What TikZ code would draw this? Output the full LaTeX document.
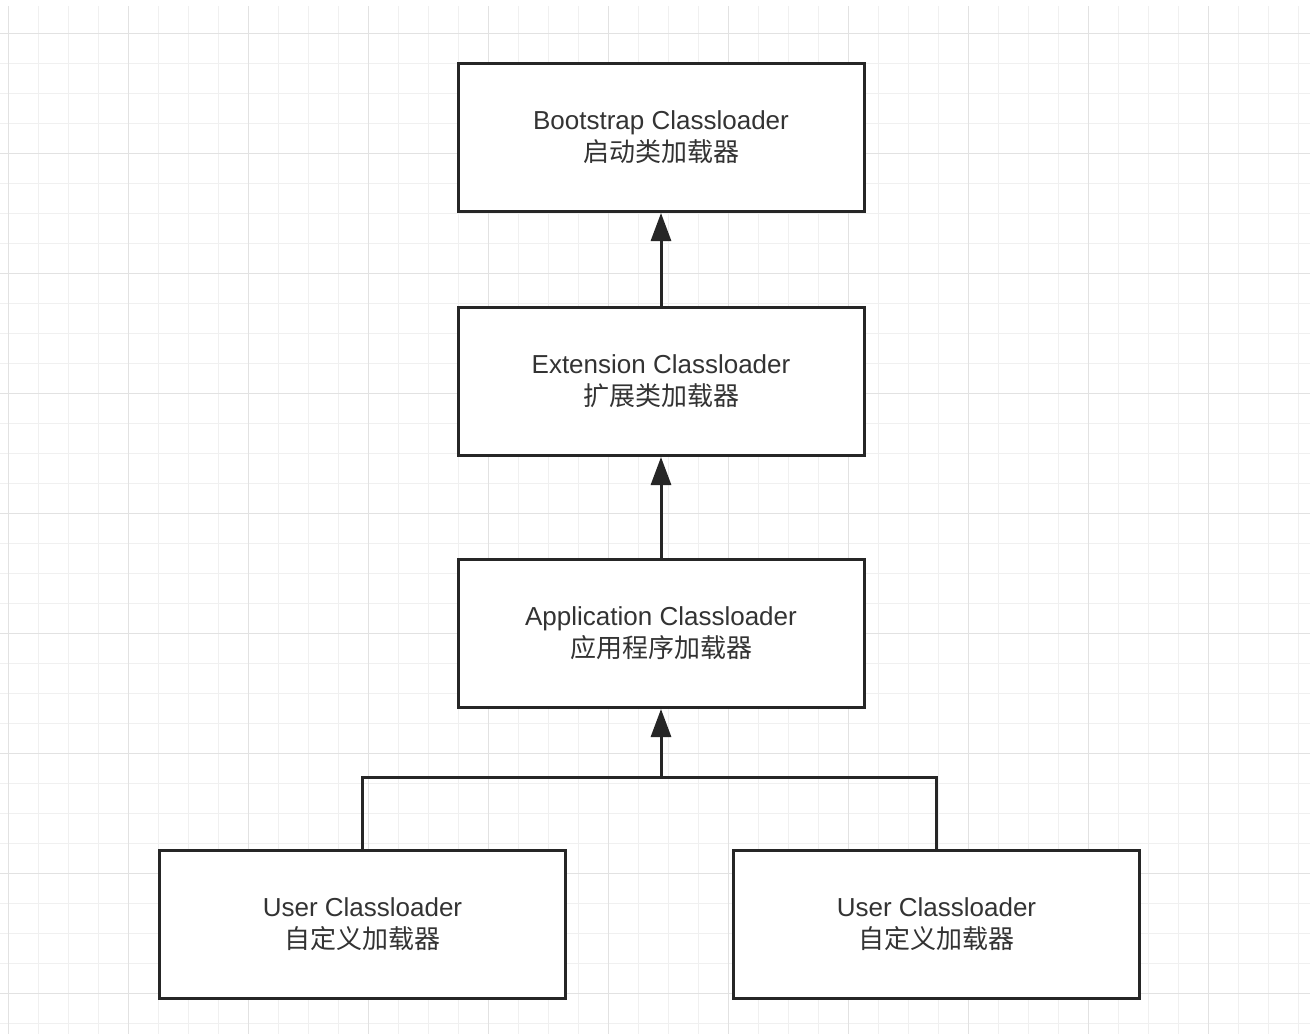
\documentclass[tikz,border=0pt]{standalone}
\usepackage{fontspec}
\setmainfont{Liberation Sans}
\newfontfamily\cjk{Noto Sans CJK SC}
\usetikzlibrary{arrows.meta,calc}
\definecolor{gridminor}{HTML}{F0F0F0}
\definecolor{gridmajor}{HTML}{E2E2E2}
\definecolor{textgray}{HTML}{333333}

\begin{document}
\begin{tikzpicture}[x=0.5pt,y=-0.5pt,
		loader/.style={draw=black!85,line width=1.5pt,fill=white,minimum width=203pt,minimum height=74pt,
			align=center,text=textgray,font=\fontsize{13pt}{16pt}\selectfont},
		parent/.style={draw=black!85,line width=1.5pt,-{Triangle[length=14pt,width=10pt]}},
		tree/.style={draw=black!85,line width=1.5pt}]
		\useasboundingbox[fill=white] (0,0) rectangle (1310,1034);
%
		\foreach \gx in {8,38,...,1298}
			\draw[gridminor,line width=0.5pt] (\gx,6) -- (\gx,1034);
		\foreach \gy in {33,63,...,1023}
			\draw[gridminor,line width=0.5pt] (0,\gy) -- (1310,\gy);
		\foreach \gx in {8,128,...,1298}
			\draw[gridmajor,line width=0.5pt] (\gx,6) -- (\gx,1034);
		\foreach \gy in {33,153,...,1023}
			\draw[gridmajor,line width=0.5pt] (0,\gy) -- (1310,\gy);
%
		\node[loader] (Boot) at (661,137.5) {Bootstrap Classloader\\{\cjk 启动类加载器}};
		\node[loader] (Ext) at (661,381.5) {Extension Classloader\\{\cjk 扩展类加载器}};
		\node[loader] (App) at (661,633.5) {Application Classloader\\{\cjk 应用程序加载器}};
		\node[loader] (User1) at (362.5,924) {User Classloader\\{\cjk 自定义加载器}};
		\node[loader] (User2) at (936.5,924) {User Classloader\\{\cjk 自定义加载器}};
		\coordinate (J) at (661,777);
%
		\draw[parent] (Ext.north) -- (Boot.south);
		\draw[parent] (App.north) -- (Ext.south);
		\draw[tree] (User1.north) |- (J) -| (User2.north);
		\draw[parent] (J) -- (App.south);
	\end{tikzpicture}
\end{document}
